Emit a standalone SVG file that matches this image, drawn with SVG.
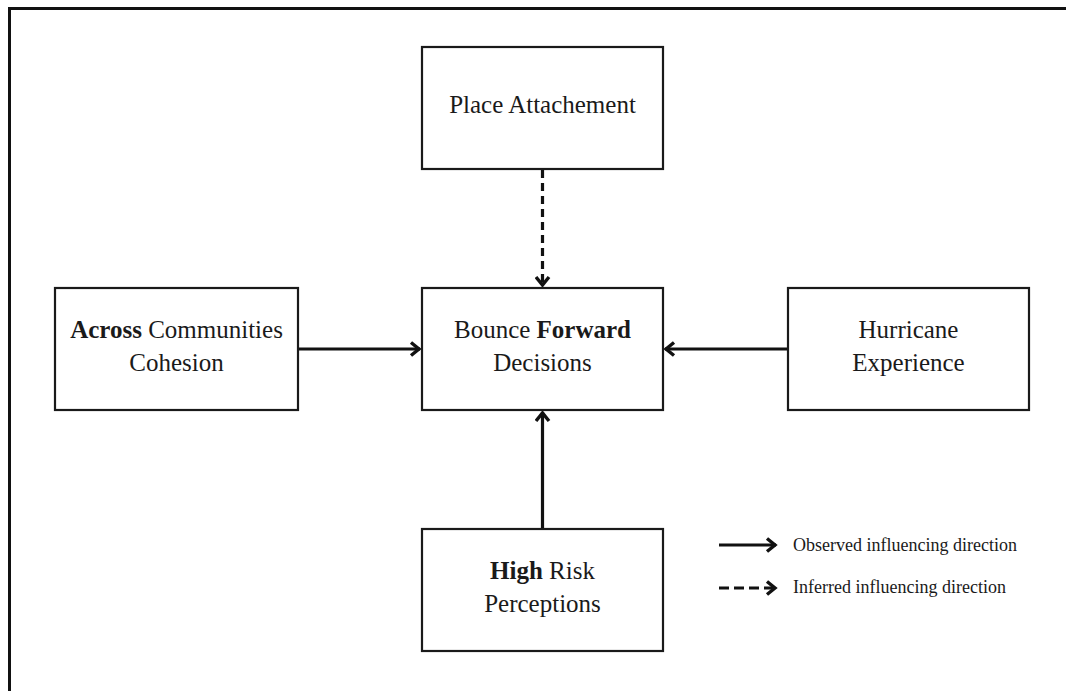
<svg xmlns="http://www.w3.org/2000/svg" width="1066" height="691" viewBox="0 0 1066 691">
<style>
.box{fill:#fff;stroke:#1a1a1a;stroke-width:2.2}
.t{font-family:"Liberation Serif","Times New Roman",serif;font-size:25px;fill:#1a1a1a;text-anchor:middle}
.b{font-weight:bold}
.lg{font-family:"Liberation Serif","Times New Roman",serif;font-size:18px;fill:#1a1a1a}
.c{fill:none;stroke:#111;stroke-width:3.2}
.d{stroke-dasharray:8 5}
</style>
<defs>
<marker id="ah" markerUnits="userSpaceOnUse" markerWidth="16" markerHeight="16" viewBox="-12 -8 14 16" refX="0" refY="0" orient="auto">
<path d="M-9,-6.5 L-1,0 L-9,6.5" fill="none" stroke="#111" stroke-width="3.4" stroke-linejoin="miter"/>
</marker>
</defs>
<rect width="1066" height="691" fill="#fff"/>
<path d="M9.5,691 V8.5 H1066" fill="none" stroke="#111" stroke-width="3"/>

<g id="connectors">
<line class="c d" x1="542.5" y1="170" x2="542.5" y2="286" marker-end="url(#ah)"/>
<line class="c" x1="299" y1="349" x2="420" y2="349" marker-end="url(#ah)"/>
<line class="c" x1="787" y1="349" x2="665" y2="349" marker-end="url(#ah)"/>
<line class="c" x1="542.5" y1="528" x2="542.5" y2="412" marker-end="url(#ah)"/>
</g>

<g id="place">
<rect class="box" x="422" y="47" width="241" height="122"/>
<text class="t" x="542.5" y="113">Place Attachement</text>
</g>
<g id="bounce">
<rect class="box" x="422" y="288" width="241" height="122"/>
<text class="t" x="542.5" y="338">Bounce <tspan class="b">Forward</tspan></text>
<text class="t" x="542.5" y="371">Decisions</text>
</g>
<g id="across">
<rect class="box" x="55" y="288" width="243" height="122"/>
<text class="t" x="176.5" y="338"><tspan class="b">Across</tspan> Communities</text>
<text class="t" x="176.5" y="371">Cohesion</text>
</g>
<g id="hurricane">
<rect class="box" x="788" y="288" width="241" height="122"/>
<text class="t" x="908.5" y="338">Hurricane</text>
<text class="t" x="908.5" y="371">Experience</text>
</g>
<g id="risk">
<rect class="box" x="422" y="529" width="241" height="122"/>
<text class="t" x="542.5" y="579"><tspan class="b">High</tspan> Risk</text>
<text class="t" x="542.5" y="612">Perceptions</text>
</g>

<g id="legend">
<line class="c" x1="719" y1="545" x2="776" y2="545" marker-end="url(#ah)"/>
<text class="lg" x="793" y="551">Observed influencing direction</text>
<line class="c" x1="719" y1="588" x2="776" y2="588" stroke-dasharray="10 5" marker-end="url(#ah)"/>
<text class="lg" x="793" y="593">Inferred influencing direction</text>
</g>
</svg>
